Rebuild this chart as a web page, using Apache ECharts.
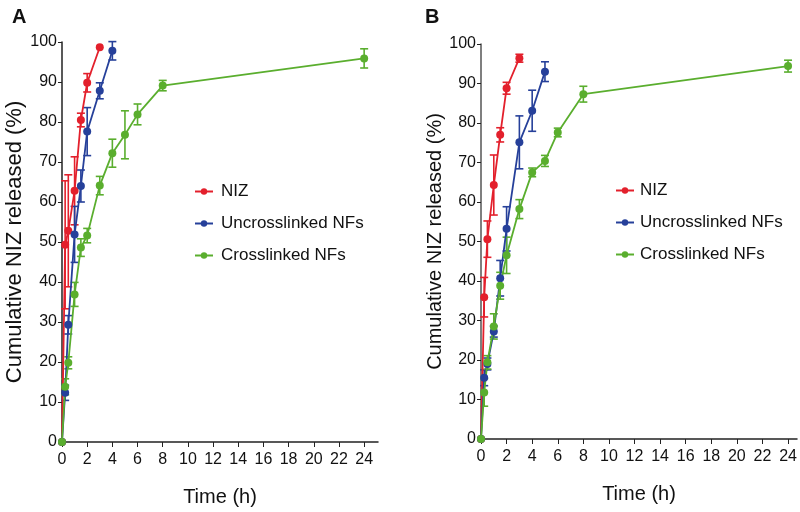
<!DOCTYPE html>
<html>
<head>
<meta charset="utf-8">
<script src="https://cdn.jsdelivr.net/npm/echarts@6/dist/echarts.min.js"></script>
<style>
  html, body { margin: 0; padding: 0; background: #fff; }
  #chart { width: 800px; height: 512px; }
</style>
</head>
<body>
<div id="chart"></div>
<script>
  // sampling times (h)
  const timesNiz = [0, 0.25, 0.5, 1, 1.5, 2, 3];
  const timesUncrossA = [0, 0.25, 0.5, 1, 1.5, 2, 3, 4];
  const timesUncrossB = [0, 0.25, 0.5, 1, 1.5, 2, 3, 4, 5];
  const timesCross = [0, 0.25, 0.5, 1, 1.5, 2, 3, 4, 5, 6, 8, 24];

  // panel A
  const nizA = [0, 49.3, 52.8, 62.8, 80.5, 89.8, 98.7];
  const nizErrA = [0, 16, 14, 8.5, 1.7, 2.3, 0];
  const uncrossA = [0, 12.3, 29.3, 51.9, 64, 77.6, 87.8, 97.8];
  const uncrossErrA = [0, 1.9, 2.3, 7, 4, 6, 2, 2.3];
  const crossA = [0, 13.8, 19.8, 36.9, 48.6, 51.6, 64.1, 72.2, 76.8, 81.9, 89.1, 95.9];
  const crossErrA = [0, 2, 1.5, 3, 2.2, 1.8, 2.3, 3.5, 6, 2.6, 1.3, 2.4];

  // panel B
  const nizB = [0, 35.9, 50.6, 64.3, 77, 88.8, 96.4];
  const nizErrB = [0, 5, 4.6, 7.6, 1.8, 1.5, 1];
  const uncrossB = [0, 15.5, 19, 27.2, 40.7, 53.2, 75.1, 83.1, 93];
  const uncrossErrB = [0, 2, 1.5, 1.4, 4.5, 5.6, 6.7, 5.2, 2.5];
  const crossB = [0, 11.8, 19.4, 28.5, 38.8, 46.5, 58.2, 67.5, 70.4, 77.6, 87.3, 94.4];
  const crossErrB = [0, 3.5, 1.7, 3.2, 3.4, 4.6, 2.4, 1.1, 1.4, 1.1, 2, 1.5];

  const xTicks = [0, 2, 4, 6, 8, 10, 12, 14, 16, 18, 20, 22, 24];
  const seriesNames = ['NIZ', 'Uncrosslinked NFs', 'Crosslinked NFs'];
  const colors = ['#e3202c', '#26409a', '#5aae2e'];
  const font = 'Liberation Sans, Arial, sans-serif';

  function lineSeries(name, ts, vs, color, idx) {
    return {
      name: name,
      type: 'line',
      xAxisIndex: idx,
      yAxisIndex: idx,
      data: ts.map((t, i) => [t, vs[i]]),
      symbol: 'circle',
      symbolSize: 8,
      lineStyle: {color: color, width: 1.8},
      itemStyle: {color: color},
      z: 3
    };
  }

  function errSeries(ts, vs, es, color, idx) {
    return {
      type: 'custom',
      xAxisIndex: idx,
      yAxisIndex: idx,
      data: ts.map((t, i) => [t, vs[i] - es[i], vs[i] + es[i]]),
      encode: {x: 0, y: [1, 2]},
      silent: true,
      z: 2,
      renderItem: function (params, api) {
        const lo = api.coord([api.value(0), api.value(1)]);
        const hi = api.coord([api.value(0), api.value(2)]);
        if (Math.abs(hi[1] - lo[1]) < 1) return null;
        const w = 4;
        const style = {stroke: color, lineWidth: 1.6};
        return {
          type: 'group',
          children: [
            {type: 'line', shape: {x1: lo[0], y1: lo[1], x2: hi[0], y2: hi[1]}, style: style},
            {type: 'line', shape: {x1: hi[0] - w, y1: hi[1], x2: hi[0] + w, y2: hi[1]}, style: style},
            {type: 'line', shape: {x1: lo[0] - w, y1: lo[1], x2: lo[0] + w, y2: lo[1]}, style: style}
          ]
        };
      }
    };
  }

  function xAxis(idx, max) {
    return {
      type: 'value',
      gridIndex: idx,
      min: 0,
      max: max,
      interval: 2,
      name: 'Time (h)',
      nameLocation: 'middle',
      nameGap: 45,
      nameTextStyle: {fontSize: 20, color: '#111', fontFamily: font},
      splitLine: {show: false},
      axisLine: {lineStyle: {color: '#222', width: 1.5}},
      axisTick: {customValues: xTicks, length: 5, lineStyle: {color: '#222'}},
      axisLabel: {customValues: xTicks, fontSize: 16, color: '#111', fontFamily: font, margin: 10}
    };
  }

  function yAxis(idx, labelSize) {
    return {
      type: 'value',
      gridIndex: idx,
      min: 0,
      max: 100,
      interval: 10,
      name: 'Cumulative NIZ released (%)',
      nameLocation: 'middle',
      nameRotate: 90,
      nameGap: 35,
      nameTextStyle: {fontSize: labelSize, color: '#111', fontFamily: font},
      splitLine: {show: false},
      axisLine: {show: true, lineStyle: {color: idx === 0 ? '#222' : '#555', width: 1.5}},
      axisTick: {length: 4, lineStyle: {color: '#222'}},
      axisLabel: {fontSize: 16, color: '#111', fontFamily: font, margin: 5}
    };
  }

  const chart = echarts.init(document.getElementById('chart'));
  chart.setOption({
    animation: false,
    backgroundColor: '#fff',
    title: [
      {text: 'A', left: 7, top: 2, textStyle: {fontSize: 20, fontWeight: 'bold', color: '#111', fontFamily: font}},
      {text: 'B', left: 420, top: 2, textStyle: {fontSize: 20, fontWeight: 'bold', color: '#111', fontFamily: font}}
    ],
    grid: [
      {left: 62, top: 42, width: 316, height: 400},
      {left: 481, top: 44, width: 316, height: 395}
    ],
    xAxis: [xAxis(0, 25.1), xAxis(1, 24.7)],
    yAxis: [yAxis(0, 22), yAxis(1, 20)],
    legend: [
      {
        data: seriesNames, orient: 'vertical', left: 189, top: 178, itemGap: 15,
        itemWidth: 18, itemHeight: 8,
        textStyle: {fontSize: 17, color: '#111', fontFamily: font, padding: [0, 0, 0, 3]}
      },
      {
        data: seriesNames, orient: 'vertical', left: 610, top: 177, itemGap: 15,
        itemWidth: 18, itemHeight: 8,
        textStyle: {fontSize: 17, color: '#111', fontFamily: font, padding: [0, 0, 0, 1]}
      }
    ],
    series: [
      errSeries(timesNiz, nizA, nizErrA, colors[0], 0),
      errSeries(timesUncrossA, uncrossA, uncrossErrA, colors[1], 0),
      errSeries(timesCross, crossA, crossErrA, colors[2], 0),
      lineSeries(seriesNames[0], timesNiz, nizA, colors[0], 0),
      lineSeries(seriesNames[1], timesUncrossA, uncrossA, colors[1], 0),
      lineSeries(seriesNames[2], timesCross, crossA, colors[2], 0),
      errSeries(timesNiz, nizB, nizErrB, colors[0], 1),
      errSeries(timesUncrossB, uncrossB, uncrossErrB, colors[1], 1),
      errSeries(timesCross, crossB, crossErrB, colors[2], 1),
      lineSeries(seriesNames[0], timesNiz, nizB, colors[0], 1),
      lineSeries(seriesNames[1], timesUncrossB, uncrossB, colors[1], 1),
      lineSeries(seriesNames[2], timesCross, crossB, colors[2], 1)
    ]
  });
</script>
</body>
</html>
